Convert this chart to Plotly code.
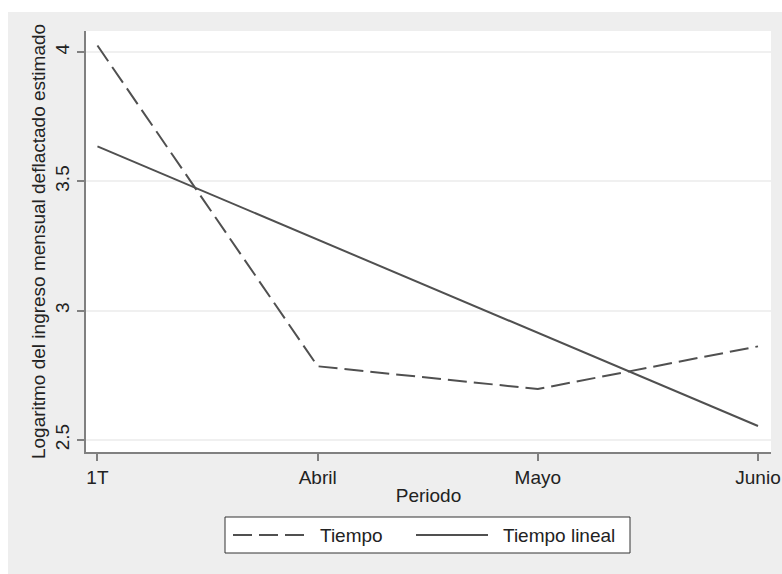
import plotly.graph_objects as go

periodos = ["1T", "Abril", "Mayo", "Junio"]
tiempo = [4.025, 2.785, 2.697, 2.862]
tiempo_lineal = [3.635, 3.275, 2.915, 2.554]
y_ticks = [2.5, 3, 3.5, 4]
y_tick_labels = ["2.5", "3", "3.5", "4"]
serie_nombres = ["Tiempo", "Tiempo lineal"]

FONT = "Liberation Sans, Arial, sans-serif"
LINE_COLOR = "#505050"
TXT = "#222222"

fig = go.Figure()
fig.add_trace(go.Scatter(x=periodos, y=tiempo, mode="lines", name=serie_nombres[0],
                         line=dict(color=LINE_COLOR, width=2, dash="19px,7px"),
                         showlegend=False))
fig.add_trace(go.Scatter(x=periodos, y=tiempo_lineal, mode="lines", name=serie_nombres[1],
                         line=dict(color=LINE_COLOR, width=2),
                         showlegend=False))

W, H = 782, 574
# plot area in window coordinates
SX0, SX1, SY0, SY1 = 86, 771, 31, 452
L, T = SX0, SY0
R, B = W - SX1, H - SY1
pw, ph = SX1 - SX0, SY1 - SY0


def px(xs):
    return (xs - SX0) / pw


def py(ys):
    return (SY1 - ys) / ph


shapes = [
    # gray outer background
    dict(type="rect", xref="paper", yref="paper", x0=px(8), x1=px(783), y0=py(576), y1=py(12),
         fillcolor="#eeeeee", line=dict(width=0), layer="below"),
    # white plot region
    dict(type="rect", xref="paper", yref="paper", x0=0, x1=1, y0=0, y1=1,
         fillcolor="white", line=dict(width=0), layer="below"),
    # legend box
    dict(type="rect", xref="paper", yref="paper", x0=px(225), x1=px(630), y0=py(553), y1=py(517),
         fillcolor="white", line=dict(color="#333333", width=1), layer="above"),
    dict(type="line", xref="paper", yref="paper", x0=px(233), x1=px(308), y0=py(535), y1=py(535),
         line=dict(color=LINE_COLOR, width=2, dash="19px,7px"), layer="above"),
    dict(type="line", xref="paper", yref="paper", x0=px(416), x1=px(488), y0=py(535), y1=py(535),
         line=dict(color=LINE_COLOR, width=2), layer="above"),
]

annotations = [
    dict(text=serie_nombres[0], xref="paper", yref="paper", x=px(318), y=py(535),
         xanchor="left", yanchor="middle", showarrow=False, font=dict(family=FONT, size=19, color=TXT)),
    dict(text=serie_nombres[1], xref="paper", yref="paper", x=px(501), y=py(535),
         xanchor="left", yanchor="middle", showarrow=False, font=dict(family=FONT, size=19, color=TXT)),
]

fig.update_layout(
    width=W, height=H,
    margin=dict(l=L, r=R, t=T, b=B, autoexpand=False),
    paper_bgcolor="white",
    plot_bgcolor="white",
    font=dict(family=FONT, size=19, color=TXT),
    shapes=shapes,
    annotations=annotations,
    showlegend=False,
    hovermode=False,
    xaxis=dict(
        type="category",
        range=[-0.052, 3.059],
        showgrid=False, zeroline=False,
        showline=True, linecolor="#808080", linewidth=2,
        ticks="outside", ticklen=7, tickwidth=1.5, tickcolor="#808080",
        tickfont=dict(family=FONT, size=19, color=TXT),
        title=dict(text="Periodo", font=dict(family=FONT, size=19, color=TXT), standoff=2),
    ),
    yaxis=dict(
        range=[2.4536, 4.0812],
        tickvals=y_ticks, ticktext=y_tick_labels,
        tickangle=-90,
        showgrid=True, gridcolor="#f0f0f0", gridwidth=1.5,
        zeroline=False,
        showline=True, linecolor="#808080", linewidth=2,
        ticks="outside", ticklen=7, tickwidth=1.5, tickcolor="#808080",
        tickfont=dict(family=FONT, size=19, color=TXT),
        title=dict(text="Logaritmo del ingreso mensual deflactado estimado",
                   font=dict(family=FONT, size=19, color=TXT), standoff=2),
    ),
)

fig.write_html(
    "out.html",
    config={"displayModeBar": False},
    post_script="document.body.style.margin='0';document.body.style.overflow='hidden';",
)
